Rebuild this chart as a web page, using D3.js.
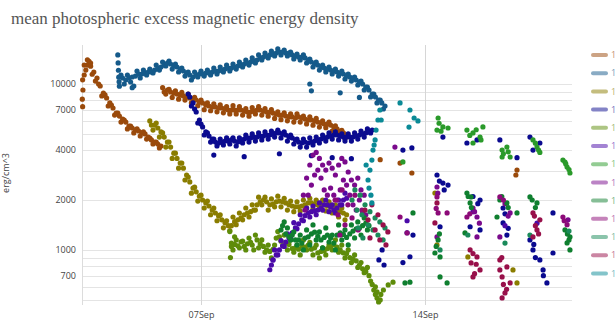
<!DOCTYPE html>
<html>
<head>
<meta charset="utf-8">
<script src="https://cdn.jsdelivr.net/npm/d3@7"></script>
<style>
  body { margin: 0; background: #fff; }
  svg { display: block; }
</style>
</head>
<body>
<div id="chart"></div>
<script>
// ---- data (day = fractional day of September 2017, value = erg/cm^3) ----
const step = 0.1; // cadence of the dense runs, in days
const yTickVals = [700, 1000, 2000, 4000, 7000, 10000];
const xTickDays = [7, 14];

const seriesNames = ["12672", "12673", "12674", "12675", "12676", "12677", "12678",
  "12679", "12680", "12681", "12682", "12683", "12684"];
const seriesColors = ["#9a4a0b", "#155a8a", "#8a7d00", "#0a0a8f", "#5e8c0a", "#4a0aa8",
  "#2a9a2a", "#7a0a8c", "#0f7f2f", "#8c0a78", "#1a8a5a", "#98104a", "#0a8a96"];

// dense runs: [start day, values every `step`]
const brownA = [3.3, [10600, 12140, 13700, 11450, 10420, 10000, 8470, 8590, 7370, 7470, 6500, 6680,
  5900, 6070, 5360, 5580, 5070, 5360, 4860, 5140, 4660, 4720, 4350, 4470, 4120]];
const brownAmid = [3.35, [11330, 13010, 13380, 11810, 10870, 9730, 8820, 8235, 7690, 7170, 6680, 6410,
  6150, 5900, 5580, 5430, 5280, 5210, 5070, 5000, 4790, 4600, 4470, 4350, 4230]];
const brownB = [5.8, [9500, 8700, 9300, 8300, 9100, 8100, 8900, 8000, 8700, 7700,
  8300, 7400, 8000, 7000, 7700, 6900, 7600, 6800, 7500, 6700,
  7300, 6600, 7400, 6600, 7300, 6500, 7100, 6400, 7200, 6600,
  7300, 6500, 7100, 6400, 7000, 6200, 6800, 6100, 6700, 6000,
  6600, 5900, 6600, 5900, 6400, 5750, 6350, 5650, 6200, 5500,
  6000, 5450, 5900, 5200, 5600, 4950, 5250, 4700]];
const brownBmid = [5.85, [8950, 9200, 8950, 8820, 8700, 8590, 8470, 8350, 8235, 8120,
  8010, 7790, 7685, 7470, 7370, 7270, 7270, 7170, 7170, 7070,
  6970, 6970, 6970, 6970, 6970, 6870, 6780, 6780, 6870, 6970,
  6970, 6870, 6780, 6780, 6680, 6590, 6500, 6500, 6410, 6330,
  6330, 6240, 6330, 6240, 6150, 6070, 6070, 5990, 5900, 5820,
  5740, 5740, 5660, 5500, 5360, 5210, 5070, 4930]];
const steelRun = [4.5, [11330, 10000, 11330, 10280, 9730, 11980, 10870, 12140, 11330, 12310,
  11650, 13010, 12140, 13570, 12840, 13760, 12310, 13200, 11810, 12480,
  11170, 11810, 10570, 11810, 11020, 11980, 11170, 12140, 11330, 12480,
  11490, 12660, 11810, 13010, 11980, 13200, 12310, 13570, 12660, 13950,
  13010, 14350, 13380, 14960, 13950, 15380, 14350, 15810, 14750, 16260,
  14960, 16030, 14750, 15590, 14150, 15160, 13950, 14960, 13380, 14150,
  12660, 13570, 12140, 13010, 11810, 12660, 11490, 12310, 11170, 11980,
  10720, 11490, 10420, 11020, 9860, 10420, 9200, 9590, 8350, 8700,
  7690, 8010, 7070]];
const steelMid = [4.55, [10870, 10570, 10870, 11020, 11170, 11490, 11490, 11650, 11810, 11810,
  12140, 12480, 12660, 13010, 13380, 13200, 12840, 12660, 12310, 11980,
  11650, 11330, 11020, 11330, 11490, 11490, 11650, 11650, 11810, 11980,
  11980, 12140, 12310, 12480, 12480, 12660, 12840, 13010, 13200, 13380,
  13570, 13760, 13950, 14350, 14550, 14750, 14960, 15160, 15380, 15590,
  15590, 15380, 15380, 14960, 14750, 14550, 14550, 14350, 13950, 13570,
  13200, 13010, 12660, 12480, 12310, 12140, 11980, 11810, 11650, 11490,
  11170, 11020, 10870, 10570, 10280, 10000, 9590, 9200, 8700, 8350,
  8010, 7690, 7370]];
const navyRun = [6.6, [8700, 7370, 7070, 5820, 5740, 4930, 5070, 4470, 4660, 4230,
  4660, 4290, 4730, 4350, 4730, 4230, 4730, 4410, 4930, 4470,
  5000, 4530, 5070, 4600, 5140, 4660, 5210, 4790, 5280, 4730,
  5140, 4530, 4930, 4350, 4660, 4170, 4660, 4170, 4730, 4290,
  4790, 4410, 4930, 4530, 5070, 4660, 5140, 4600, 5000, 4530,
  5000, 4530, 5070, 4660, 5210, 4790, 5360, 5070]];
const navyMid = [6.65, [8350, 7690, 6780, 6070, 5510, 5140, 4860, 4660, 4470, 4410,
  4470, 4530, 4530, 4600, 4530, 4470, 4530, 4660, 4730, 4730,
  4790, 4790, 4860, 4860, 4930, 4930, 5000, 5070, 5070, 5000,
  4930, 4790, 4730, 4600, 4470, 4410, 4470, 4410, 4470, 4530,
  4600, 4660, 4730, 4790, 4860, 4930, 4930, 4860, 4790, 4790,
  4790, 4790, 4860, 4930, 5000, 5070, 5140, 5280]];
const oliveRun = [5.4, [5990, 5280, 5820, 4790, 5070, 4170, 4470, 3560, 3830, 3110,
  3340, 2640, 2750, 2200, 2390, 1970, 2140, 1790, 1970, 1630,
  1790, 1500, 1630, 1360, 1500, 1310, 1580, 1420, 1670, 1520,
  1790, 1580, 1870, 1740, 2080, 1870, 2080, 1740, 2030, 1820,
  2110, 1820, 2050, 1740, 1970, 1700, 1950, 1720, 2000, 1790,
  2050, 1770, 2000, 1770, 2000, 1720, 1950, 1670, 1870, 1580,
  1790, 1520]];
const oliveMid = [5.45, [5660, 5660, 5430, 5140, 4790, 4470, 4170, 3830, 3560, 3340,
  3110, 2830, 2570, 2360, 2240, 2110, 2000, 1920, 1840, 1740,
  1670, 1600, 1520, 1460, 1400, 1400, 1480, 1520, 1560, 1630,
  1670, 1700, 1740, 1870, 1950, 2000, 1950, 1870, 1890, 1950,
  1970, 1950, 1920, 1870, 1840, 1820, 1820, 1840, 1870, 1920,
  1920, 1890, 1870, 1890, 1870, 1840, 1820, 1790, 1740, 1700,
  1670, 1630]];
const ygreenRun = [7.9, [1290, 1000, 1150, 1030, 1130, 1000, 1180, 1070, 1230, 1030,
  1150, 970, 1070, 895, 1070, 1290, 1130, 1230, 1000, 1150,
  970, 1070, 933, 1150, 1000, 1110, 933, 1070, 895, 1030,
  933, 1070, 1000, 1150, 970, 1070, 895, 1000, 840, 933,
  785, 840, 730, 785, 650, 574, 513]];
const ygreenMid = [7.95, [1100, 1080, 1060, 1120, 1050, 1090, 1110, 1000, 1150, 1090,
  1050, 1000, 980, 1010, 1180, 1200, 1060, 1100, 1080, 1020,
  1030, 1010, 1060, 1040, 1070, 1010, 1030, 960, 980, 990,
  1020, 1040, 1080, 1040, 1000, 960, 950, 900, 880, 860,
  810, 770, 740, 700, 620, 540]];
const greenRun = [9.5, [1320, 1475, 1357, 1149, 1284, 1072, 1231, 1000, 1320, 1072,
  1415, 1149, 1284, 1028, 1357, 1117, 1231, 1000, 1415, 1149,
  1320, 1072, 1415, 1181, 1475, 1231, 1559, 1320]];
const greenMid = [9.55, [1400, 1250, 1200, 1230, 1150, 1150, 1100, 1180, 1200, 1250,
  1280, 1210, 1150, 1190, 1230, 1180, 1100, 1230, 1270, 1240,
  1190, 1250, 1300, 1340, 1350, 1400, 1450, 1400]];
const violetRun = [9.2, [812, 1000, 933, 1140, 1050, 1250, 1180, 1460, 1340, 1630,
  1500, 1790, 1580, 1840, 1630, 1920, 1740, 2000, 1700, 1870,
  1670, 2000, 1870, 2200]];
const violetMid = [9.25, [871, 933, 1000, 1060, 1117, 1181, 1266, 1357, 1438, 1520,
  1610, 1671, 1700, 1720, 1740, 1790, 1870, 1870, 1820, 1740,
  1790, 1870, 2000, 2050]];
const purpleUpper = [10.2, [2140, 2710, 3250, 3730, 3870, 3560, 3250, 3030, 3340, 3110,
  2830, 3250, 3560, 3390, 2950, 2640, 2460, 2710, 2300, 2140]];
const purpleLower = [10.25, [1740, 2140, 2460, 2830, 3030, 2710, 2300, 2140, 2360, 2140,
  2000, 2300, 2640, 2460, 2140, 1870, 1740, 2000, 1700, 1630]];

// scattered points: [day, value]
const brownPts = [[3.29, 8100], [3.3, 7300], [3.31, 9200], [3.35, 13000], [3.45, 14000],
  [3.55, 12800], [12.6, 3500], [13.22, 3340], [13.59, 2910], [16.84, 2830], [16.875, 3030]];
const steelPts = [[4.40, 14970], [4.41, 13400], [4.42, 12100], [4.43, 11000], [4.44, 10300],
  [4.45, 9700], [4.85, 9500], [10.4, 10000], [10.45, 9100], [11.35, 8850], [11.95, 8300]];
const olivePts = [[14.31, 2204], [14.375, 1072], [15.34, 908], [16.75, 758], [16.875, 633]];
const navyPts = [[7.4, 3730], [8.35, 3650], [9.45, 3800], [10.45, 3700], [11.1, 3600],
  [11.7, 3550], [12.56, 871], [12.72, 812], [12.66, 1000],
  [13.31, 4000], [13.59, 4120], [13.44, 1270], [13.625, 1230], [13.53, 910], [13.31, 840],
  [14.375, 2830], [14.56, 2530], [14.72, 2460], [14.47, 1380], [14.56, 4790],
  [14.45, 2600], [14.6, 2300],
  [15.31, 4410], [15.625, 4600], [15.72, 2000], [15.41, 1380], [15.72, 1320],
  [15.5, 2100], [15.65, 1900],
  [16.34, 4600], [16.875, 3600], [16.44, 1790], [16.44, 1455], [16.56, 1230],
  [16.5, 1650], [16.6, 1350],
  [17.28, 4790], [17.59, 4410], [17.375, 4000], [17.28, 1150], [17.375, 1000],
  [17.59, 871], [17.69, 758], [17.81, 633], [17.45, 900], [17.7, 700], [17.4, 1080],
  [18.0, 1671], [18.0, 959]];
const ygreenPts = [[7.92, 900], [7.95, 1050], [8.05, 1200], [12.45, 600], [12.55, 486],
  [12.6, 500], [12.7, 574], [12.85, 616], [12.62, 540], [12.5, 560], [13.0, 640]];
const violetPts = [[9.15, 760], [9.25, 870], [13.44, 1500], [15.5, 1700], [16.5, 1400], [17.5, 1450]];
const greenLightPts = [[13.31, 3390], [14.41, 6240], [14.56, 5510], [14.72, 5430], [14.375, 5280],
  [14.44, 5800], [14.5, 5200],
  [15.31, 5280], [15.5, 5070], [15.72, 4790], [15.81, 5510], [15.5, 4410],
  [15.4, 4900], [15.6, 5300], [15.75, 4600],
  [16.41, 4000], [16.66, 3633], [16.41, 3633], [16.56, 4170], [16.45, 3800], [16.6, 3900],
  [17.375, 4600], [17.5, 4170], [17.59, 3870], [17.45, 4400], [17.55, 4000],
  [18.31, 3480], [18.44, 3160], [18.53, 2910], [18.375, 3388], [18.4, 3300], [18.5, 3050]];
const purplePts = [[13.06, 4170], [14.375, 2396], [14.375, 1198], [14.4, 2200], [15.5, 1790],
  [15.625, 1580], [15.625, 1198], [15.55, 1700], [15.7, 1450],
  [16.66, 1671], [16.34, 1198], [16.5, 1900], [16.6, 1600], [18.47, 1520]];
const greenPts = [[13.625, 1671], [13.375, 633], [13.53, 640], [14.41, 1150], [14.31, 959],
  [14.47, 908], [14.47, 688], [14.69, 633], [14.45, 1250], [14.35, 1050],
  [15.31, 2204], [15.41, 1920], [15.25, 1266], [15.44, 2086], [15.35, 2100], [15.45, 1800],
  [16.34, 2000], [16.56, 1920], [16.25, 1580], [16.875, 1671], [16.4, 2100], [16.6, 1800],
  [17.28, 2086], [17.5, 1920], [17.35, 2000], [17.45, 1800],
  [18.375, 1320], [18.53, 1198], [18.44, 1102], [18.53, 1000], [18.45, 1250], [18.5, 1150]];
const magentaPts = [[11.19, 2000], [11.28, 1630], [11.41, 2300], [11.5, 1415], [11.59, 1870],
  [11.72, 1559], [11.81, 2140], [11.91, 1320], [12.03, 1740], [11.34, 1231],
  [13.22, 1580], [13.44, 1266], [14.375, 2086], [14.41, 1671], [14.69, 1671], [14.35, 1780],
  [15.31, 1580], [15.4, 1650], [16.34, 2086], [16.45, 2000], [18.31, 1580], [18.44, 1420],
  [18.35, 1500]];
const seagreenPts = [[11.72, 2000], [11.81, 2300], [11.875, 1740], [11.97, 2140], [12.03, 1630],
  [12.125, 1870], [12.22, 1415], [12.28, 1700], [12.375, 1320], [12.44, 1560],
  [12.53, 1231], [12.59, 1475], [12.69, 1149], [12.75, 1357], [11.91, 1357], [12.06, 1181],
  [14.47, 1000], [15.34, 1231], [16.5, 1100], [17.28, 1230], [18.5, 1300]];
const crimsonPts = [[12.125, 1740], [12.22, 1520], [12.34, 1870], [12.44, 1320], [12.53, 1630],
  [12.59, 1149], [12.69, 1415], [12.78, 1072], [12.84, 1284], [12.28, 1181],
  [14.375, 1920], [14.31, 1455], [15.41, 1000], [15.625, 908], [15.44, 835], [15.72, 758],
  [15.5, 688], [15.5, 950], [15.6, 820], [15.55, 720],
  [16.34, 871], [16.56, 790], [16.41, 688], [16.66, 633], [16.5, 551],
  [16.41, 514], [16.34, 758], [16.45, 620], [16.55, 580], [16.4, 900],
  [17.375, 1671], [17.59, 1520], [17.5, 1320], [17.375, 1198],
  [17.45, 1400], [17.55, 1250], [17.42, 1600]];
const tealPts = [[12.59, 6970], [12.53, 6070], [12.47, 5280], [12.44, 4600], [12.41, 4290],
  [12.375, 4000], [12.34, 3480], [12.16, 3250], [12.28, 3030], [12.22, 2640], [12.25, 2360],
  [12.31, 2140], [12.34, 1920], [12.63, 6070],
  [13.22, 7690], [13.53, 6970], [13.66, 6240], [13.78, 5990], [13.5, 5500]];

// ---- build series ----
function run(r) {
  return r[1].map((v, i) => [r[0] + i * step, v]);
}
const seriesPts = [
  run(brownA).concat(run(brownAmid), run(brownB), run(brownBmid), brownPts),
  run(steelRun).concat(run(steelMid), steelPts),
  run(oliveRun).concat(run(oliveMid), olivePts),
  run(navyRun).concat(run(navyMid), navyPts),
  run(ygreenRun).concat(run(ygreenMid), ygreenPts),
  run(violetRun).concat(run(violetMid), violetPts),
  greenLightPts,
  run(purpleUpper).concat(run(purpleLower), purplePts),
  run(greenRun).concat(run(greenMid), greenPts),
  magentaPts,
  seagreenPts,
  crimsonPts,
  tealPts,
];

// ---- chart ----
const W = 616, H = 331;
const plot = { left: 82, right: 572, top: 45, bottom: 305 };
const dayToDate = (d) => new Date(Date.UTC(2017, 8, 1) + (d - 1) * 864e5);

const x = d3.scaleUtc()
  .domain([dayToDate(3.281), dayToDate(18.594)])
  .range([plot.left, plot.right]);
const y = d3.scaleLog()
  .domain([466, 17180])
  .range([plot.bottom, plot.top]);

const svg = d3.select("#chart").append("svg")
  .attr("width", W)
  .attr("height", H);

svg.append("defs").append("clipPath").attr("id", "plotclip")
  .append("rect")
  .attr("x", plot.left - 3).attr("y", plot.top)
  .attr("width", plot.right - plot.left + 6).attr("height", plot.bottom - plot.top);

// horizontal grid at every 1..9 x 10^n
const gridVals = [];
for (let n = 2; n <= 4; n++) {
  for (let k = 1; k <= 9; k++) {
    const v = k * Math.pow(10, n);
    if (v >= y.domain()[0] && v <= y.domain()[1]) gridVals.push(v);
  }
}
svg.append("g").attr("class", "y-grid")
  .selectAll("line").data(gridVals).join("line")
  .attr("x1", plot.left).attr("x2", plot.right)
  .attr("y1", (d) => Math.round(y(d)) + 0.5).attr("y2", (d) => Math.round(y(d)) + 0.5)
  .attr("stroke", "#e4e4e4").attr("stroke-width", 1);

// vertical grid at x ticks
svg.append("g").attr("class", "x-grid")
  .selectAll("line").data(xTickDays).join("line")
  .attr("x1", (d) => Math.round(x(dayToDate(d))) + 0.5)
  .attr("x2", (d) => Math.round(x(dayToDate(d))) + 0.5)
  .attr("y1", plot.top).attr("y2", plot.bottom)
  .attr("stroke", "#d6d6d6");

// left axis line
svg.append("line")
  .attr("x1", plot.left + 0.5).attr("x2", plot.left + 0.5)
  .attr("y1", plot.top).attr("y2", plot.bottom)
  .attr("stroke", "#dcdcdc");

// y tick labels
const yAxis = svg.append("g")
  .attr("transform", `translate(${plot.left - 3},0)`)
  .call(d3.axisLeft(y).tickValues(yTickVals).tickFormat(d3.format("d")).tickSize(0));
yAxis.select(".domain").remove();
yAxis.selectAll("text")
  .attr("fill", "#444")
  .style("font-family", "'Open Sans', sans-serif")
  .style("font-size", "9px");

// x tick labels
const xAxis = svg.append("g")
  .attr("transform", `translate(0,${plot.bottom + 4})`)
  .call(d3.axisBottom(x).tickValues(xTickDays.map(dayToDate))
    .tickFormat(d3.utcFormat("%d%b")).tickSize(0));
xAxis.select(".domain").remove();
xAxis.selectAll("text")
  .attr("fill", "#444")
  .style("font-family", "'Open Sans', sans-serif")
  .style("font-size", "9px");

// points
const marks = svg.append("g").attr("clip-path", "url(#plotclip)");
seriesPts.forEach((pts, i) => {
  marks.append("g")
    .attr("fill", seriesColors[i])
    .selectAll("circle").data(pts).join("circle")
    .attr("cx", (d) => x(dayToDate(d[0])))
    .attr("cy", (d) => y(d[1]))
    .attr("r", 2.6);
});

// title
svg.append("text")
  .attr("x", 11).attr("y", 24)
  .attr("fill", "#555")
  .style("font-family", "'Liberation Serif', serif")
  .style("font-size", "17px")
  .text("mean photospheric excess magnetic energy density");

// y axis title
svg.append("text")
  .attr("transform", "translate(9,173) rotate(-90)")
  .attr("text-anchor", "middle")
  .attr("fill", "#444")
  .style("font-family", "'Open Sans', sans-serif")
  .style("font-size", "9px")
  .text("erg/cm^3");

// legend (labels run past the right edge, as in the original)
const legend = svg.append("g").attr("class", "legend");
seriesNames.forEach((name, i) => {
  const ly = 55 + i * 18.2;
  legend.append("line")
    .attr("x1", 593).attr("x2", 606)
    .attr("y1", ly).attr("y2", ly)
    .attr("stroke", seriesColors[i])
    .attr("stroke-width", 4)
    .attr("stroke-linecap", "round")
    .attr("opacity", 0.5);
  legend.append("text")
    .attr("x", 611).attr("y", ly).attr("dy", "0.35em")
    .attr("fill", seriesColors[i])
    .attr("opacity", 0.6)
    .style("font-family", "'Open Sans', sans-serif")
    .style("font-size", "9px")
    .text(name);
});
</script>
</body>
</html>
